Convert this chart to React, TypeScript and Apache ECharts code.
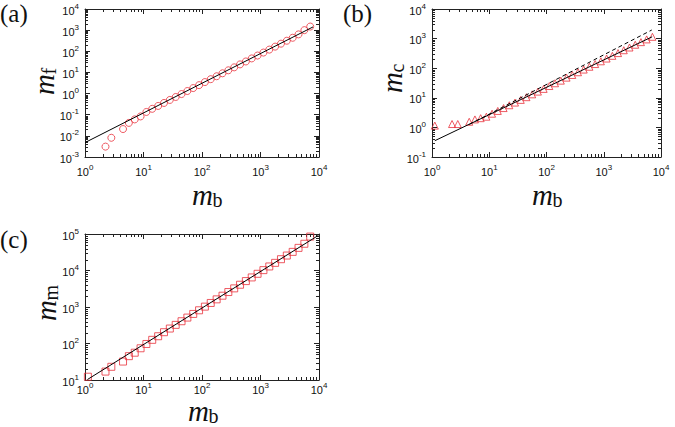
import React, { useEffect, useRef } from "react";
import * as echarts from "echarts";

// ---------- data ----------
// panel (a): m_f vs m_b
const mbA = [2.24, 2.82, 4.47, 5.62, 7.08, 8.91, 11.2, 14.1, 17.8, 22.4, 28.2, 35.5, 44.7, 56.2, 70.8, 89.1, 112, 141, 178, 224, 282, 355, 447, 562, 708, 891, 1122, 1413, 1778, 2239, 2818, 3548, 4467, 5623, 7079];
const mfA = [0.0031, 0.0081, 0.021, 0.041, 0.06, 0.083, 0.135, 0.19, 0.26, 0.36, 0.5, 0.69, 0.95, 1.32, 1.82, 2.5, 3.5, 4.8, 6.6, 9.1, 12.6, 17.4, 24, 33, 46, 63, 87, 120, 166, 229, 316, 436, 630, 1000, 1480];
const fitA = [[1, 0.0048], [7900, 1420]];

// panel (b): m_c vs m_b
const mbB = [1.12, 2.24, 2.82, 4.47, 5.62, 7.08, 8.91, 11.2, 14.1, 17.8, 22.4, 28.2, 35.5, 44.7, 56.2, 70.8, 89.1, 112, 141, 178, 224, 282, 355, 447, 562, 708, 891, 1122, 1413, 1778, 2239, 2818, 3548, 4467, 5623, 7079];
const mcB = [1.15, 1.3, 1.3, 1.55, 1.86, 2.05, 2.3, 2.9, 3.6, 4.5, 5.6, 6.9, 8.5, 10.5, 13.1, 16.2, 20, 25, 31, 38, 48, 59, 73, 90, 112, 138, 171, 212, 262, 324, 405, 500, 620, 760, 940, 1150];
const fitB = [[1.12, 0.355], [7000, 1150]];
const fitBDashed = [[4.47, 1.26], [6900, 1950]];

// panel (c): m_m vs m_b
const mbC = [1.12, 2.24, 2.82, 4.47, 5.62, 7.08, 8.91, 11.2, 14.1, 17.8, 22.4, 28.2, 35.5, 44.7, 56.2, 70.8, 89.1, 112, 141, 178, 224, 282, 355, 447, 562, 708, 891, 1122, 1413, 1778, 2239, 2818, 3548, 4467, 5623, 7079];
const mmC = [12.3, 17, 23, 32, 45, 56, 74, 97, 126, 158, 204, 257, 324, 407, 513, 646, 813, 1023, 1290, 1620, 2040, 2570, 3240, 4070, 5130, 6460, 8130, 10230, 12900, 16200, 20400, 25700, 32400, 41700, 54000, 85000];
const fitC = [[1.1, 10.3], [9800, 92000]];

// axis ranges (decades)
const xRange = [1, 10000];
const yRangeA = [0.001, 10000];
const yRangeB = [0.1, 10000];
const yRangeC = [10, 100000];

const RED = "#e8323c";
const SANS = "Liberation Sans, Arial, sans-serif";
const SERIF = "Liberation Serif, Times New Roman, serif";

function minorTicks(min: number, max: number) {
  const out: number[] = [];
  const e0 = Math.round(Math.log10(min));
  const e1 = Math.round(Math.log10(max));
  for (let e = e0; e < e1; e++) {
    for (let m = 2; m <= 9; m++) out.push(m * Math.pow(10, e));
  }
  return out;
}

const labelFmt = (v: number) => {
  const e = Math.round(Math.log10(v));
  return `{b|10}{s|${e}}`;
};

const labelRich = {
  b: { fontSize: 11, fontFamily: SANS, color: "#111", verticalAlign: "bottom", lineHeight: 14 },
  s: { fontSize: 8, fontFamily: SANS, color: "#111", verticalAlign: "top", lineHeight: 14 },
};

function mkAxis(gridIndex: number, pos: string, min: number, max: number, showLabel: boolean, margin = 6) {
  const decades = Math.round(Math.log10(max) - Math.log10(min));
  return {
    type: "log",
    logBase: 10,
    gridIndex,
    position: pos,
    min,
    max,
    splitNumber: decades,
    axisLine: { show: true, onZero: false, lineStyle: { color: "#222", width: 1 } },
    axisTick: { show: true, inside: true, length: 5, lineStyle: { color: "#222", width: 1 } },
    axisLabel: {
      show: showLabel,
      margin,
      formatter: labelFmt,
      rich: labelRich,
      showMinLabel: true,
      showMaxLabel: true,
    },
    splitLine: { show: false },
  };
}

function minorSeries(idx: number, yMin: number, yMax: number) {
  const data: number[][] = [];
  minorTicks(xRange[0], xRange[1]).forEach((v) => data.push([v, yMin, 0]));
  minorTicks(yMin, yMax).forEach((v) => data.push([xRange[0], v, 1]));
  return {
    type: "custom",
    xAxisIndex: idx * 2,
    yAxisIndex: idx * 2,
    silent: true,
    clip: false,
    data,
    renderItem: (params: any, api: any) => {
      const cs = params.coordSys;
      const kind = api.value(2);
      const style = { stroke: "#222", lineWidth: 1 };
      const L = 3;
      if (kind === 0) {
        const px = Math.round(api.coord([api.value(0), api.value(1)])[0]) + 0.5;
        return {
          type: "group",
          children: [
            { type: "line", shape: { x1: px, y1: cs.y + cs.height, x2: px, y2: cs.y + cs.height - L }, style },
            { type: "line", shape: { x1: px, y1: cs.y, x2: px, y2: cs.y + L }, style },
          ],
        };
      }
      const py = Math.round(api.coord([api.value(0), api.value(1)])[1]) + 0.5;
      return {
        type: "group",
        children: [
          { type: "line", shape: { x1: cs.x, y1: py, x2: cs.x + L, y2: py }, style },
          { type: "line", shape: { x1: cs.x + cs.width, y1: py, x2: cs.x + cs.width - L, y2: py }, style },
        ],
      };
    },
  };
}

function scatter(idx: number, xs: number[], ys: number[], symbol: string, size: number) {
  return {
    type: "scatter",
    xAxisIndex: idx * 2,
    yAxisIndex: idx * 2,
    symbol,
    symbolSize: size,
    data: xs.map((x, i) => [x, ys[i]]),
    itemStyle: { color: "rgba(0,0,0,0)", borderColor: RED, borderWidth: 1 },
    z: 3,
  };
}

function fitLine(idx: number, pts: number[][], dashed = false) {
  return {
    type: "line",
    xAxisIndex: idx * 2,
    yAxisIndex: idx * 2,
    data: pts,
    symbol: "none",
    lineStyle: { color: "#000", width: 1, type: dashed ? [4, 3] : "solid" },
    z: 4,
  };
}

function title(x: number, y: number, sub: string, rotate: boolean) {
  return {
    type: "group",
    x,
    y,
    rotation: rotate ? Math.PI / 2 : 0,
    children: [
      {
        type: "text",
        x: 0,
        y: 0,
        style: { text: "m", fontFamily: SERIF, fontSize: 29, fontStyle: "italic", lineHeight: 18, fill: "#111", align: "left", verticalAlign: "middle" },
      },
      {
        type: "text",
        x: 20.5,
        y: 5,
        style: { text: sub, fontFamily: SERIF, fontSize: 20, lineHeight: 16, fill: "#111", align: "left", verticalAlign: "middle" },
      },
    ],
  };
}

function panelLabel(x: number, y: number, t: string) {
  return {
    type: "text",
    x,
    y,
    style: { text: t, fontFamily: SERIF, fontSize: 25, fill: "#111", align: "left", verticalAlign: "top" },
  };
}

export default function App() {
  const ref = useRef<HTMLDivElement>(null);
  useEffect(() => {
    if (!ref.current) return;
    const chart = echarts.init(ref.current, undefined, { renderer: "svg" });
    const option: any = {
      animation: false,
      backgroundColor: "#fff",
      grid: [
        { left: 85, top: 9, width: 234, height: 148 },
        { left: 432, top: 9, width: 229, height: 148 },
        { left: 85, top: 234, width: 234, height: 146 },
      ],
      xAxis: [
        mkAxis(0, "bottom", xRange[0], xRange[1], true),
        mkAxis(0, "top", xRange[0], xRange[1], false),
        mkAxis(1, "bottom", xRange[0], xRange[1], true),
        mkAxis(1, "top", xRange[0], xRange[1], false),
        mkAxis(2, "bottom", xRange[0], xRange[1], true, 1),
        mkAxis(2, "top", xRange[0], xRange[1], false),
      ],
      yAxis: [
        mkAxis(0, "left", yRangeA[0], yRangeA[1], true),
        mkAxis(0, "right", yRangeA[0], yRangeA[1], false),
        mkAxis(1, "left", yRangeB[0], yRangeB[1], true),
        mkAxis(1, "right", yRangeB[0], yRangeB[1], false),
        mkAxis(2, "left", yRangeC[0], yRangeC[1], true),
        mkAxis(2, "right", yRangeC[0], yRangeC[1], false),
      ],
      series: [
        minorSeries(0, yRangeA[0], yRangeA[1]),
        minorSeries(1, yRangeB[0], yRangeB[1]),
        minorSeries(2, yRangeC[0], yRangeC[1]),
        scatter(0, mbA, mfA, "circle", 7),
        fitLine(0, fitA),
        scatter(1, mbB, mcB, "triangle", 7),
        fitLine(1, fitB),
        fitLine(1, fitBDashed, true),
        scatter(2, mbC, mmC, "rect", 7),
        fitLine(2, fitC),
      ],
      graphic: [
        panelLabel(0, 1, "(a)"),
        panelLabel(343, 1, "(b)"),
        panelLabel(0, 227, "(c)"),
        title(192, 195, "b", false),
        title(532, 195, "b", false),
        title(188, 411, "b", false),
        title(43.5, 95, "f", true),
        title(392, 93, "c", true),
        title(45.5, 321, "m", true),
      ],
    };
    chart.setOption(option);
    return () => chart.dispose();
  }, []);
  return <div ref={ref} style={{ position: "absolute", left: 0, top: 0, width: 675, height: 427 }} />;
}
